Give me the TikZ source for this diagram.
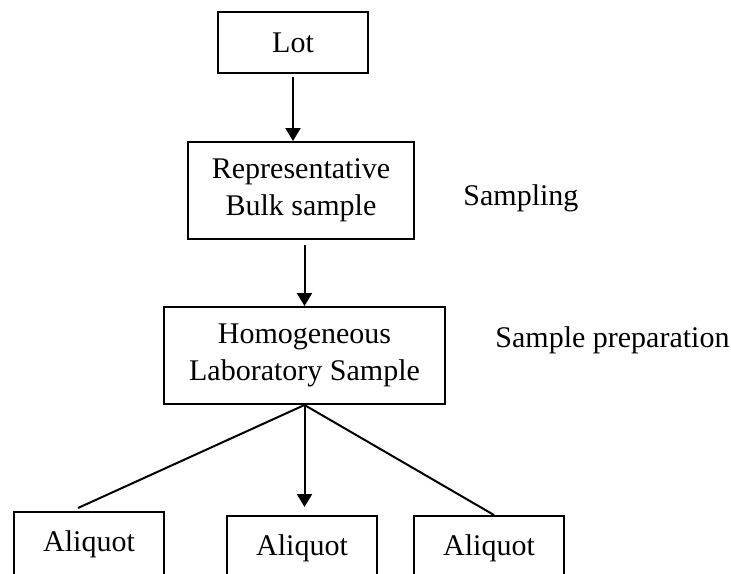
\documentclass[tikz,border=0pt]{standalone}
\usepackage{fontspec}
\setmainfont{Liberation Serif}
\usetikzlibrary{arrows.meta,positioning}

\begin{document}
\begin{tikzpicture}[
  box/.style={draw, line width=1pt, align=center, inner sep=2pt,
              font=\fontsize{15}{18.5}\selectfont},
  part/.style={box, minimum width=75pt, minimum height=32pt},
  note/.style={inner sep=0pt, font=\fontsize{15}{18.5}\selectfont},
  arr/.style={-{Triangle[length=6.5pt,width=7.5pt]}, line width=1pt},
  fan/.style={line width=1pt}
]
  \useasboundingbox (0,0) rectangle (365.5pt,-286.5pt);
  % Main chain
  \node[box, minimum width=75pt, minimum height=30.5pt] (lot) at (146.5pt,-21.25pt) {Lot};
  \node[box, minimum width=113pt, minimum height=48.5pt, below=33.5pt of lot, xshift=4pt] (bulk) {Representative\\Bulk sample};
  \node[box, minimum width=140.5pt, minimum height=48.5pt, below=33pt of bulk, xshift=1.75pt] (lab) {Homogeneous\\Laboratory Sample};
  % Aliquots
  \node[part, below=53pt of lab, xshift=-107.75pt] (ali1) {Aliquot};
  \node[part, below=55pt of lab, xshift=-1.25pt] (ali2) {Aliquot};
  \node[part, below=55pt of lab, xshift=92.25pt] (ali3) {Aliquot};
  % Stage names
  \node[note, right=24pt of bulk, yshift=-3.75pt] (samp) {Sampling};
  \node[note, right=24.5pt of lab, yshift=7.5pt] (prep) {Sample preparation};
  % Flow
  \draw[arr, shorten <=1.5pt] (lot.south) -- (lot.south |- bulk.north);
  \draw[arr, shorten <=2.5pt] (lab.north |- bulk.south) -- (lab.north);
  \draw[fan] (lab.south) -- ([xshift=-5.5pt,yshift=1.5pt]ali1.north);
  \draw[arr, shorten >=4pt] (lab.south) -- (lab.south |- ali2.north);
  \draw[fan] (lab.south) -- ([xshift=2.5pt]ali3.north);
\end{tikzpicture}
\end{document}
